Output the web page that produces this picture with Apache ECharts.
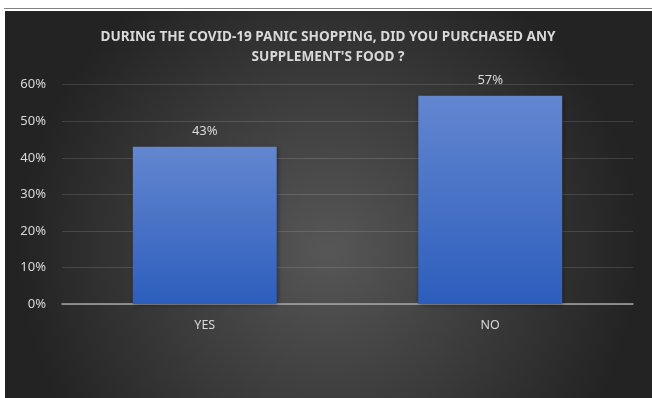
<!DOCTYPE html>
<html>
<head>
<meta charset="utf-8">
<script src="https://cdn.jsdelivr.net/npm/echarts@6/dist/echarts.min.js"></script>
<style>
  html, body { margin: 0; padding: 0; background: #ffffff; }
  #chart { width: 652px; height: 398px; }
</style>
</head>
<body>
<div id="chart"></div>
<script>
// Survey answers and their shares
const categories = ['YES', 'NO'];
const shares = [0.43, 0.57];
const titleLines = ['DURING THE COVID-19 PANIC SHOPPING, DID YOU PURCHASED ANY', "SUPPLEMENT'S FOOD ?"];

const FONT = '"Noto Sans", "Liberation Sans", sans-serif';
const TEXT = '#d9d9d9';

const chart = echarts.init(document.getElementById('chart'), null, { renderer: 'canvas' });

const pct = v => Math.round(v * 100) + '%';

chart.setOption({
  backgroundColor: '#ffffff',
  animation: false,
  graphic: [
    {
      type: 'line', z: -10, silent: true,
      shape: { x1: 4, y1: 8.5, x2: 652, y2: 8.5 },
      style: { stroke: '#808080', lineWidth: 1 }
    },
    {
      type: 'rect', z: -10, silent: true,
      shape: { x: 5, y: 11, width: 647, height: 387 },
      style: {
        fill: new echarts.graphic.RadialGradient(0.5, 0.62, 0.8, [
          { offset: 0, color: '#575757' },
          { offset: 1, color: '#232323' }
        ])
      }
    }
  ],
  title: {
    text: titleLines.join('\n'),
    left: 323, top: 22, textAlign: 'center',
    textStyle: { color: TEXT, fontFamily: FONT, fontSize: 13.6, fontWeight: 'bold', lineHeight: 20 }
  },
  grid: { left: 62, right: 19, top: 84.7, bottom: 94, containLabel: false },
  xAxis: {
    type: 'category',
    data: categories,
    axisLine: { show: true, lineStyle: { color: '#a6a6a6', width: 1.5 } },
    axisTick: { show: false },
    axisLabel: { color: TEXT, fontFamily: FONT, fontSize: 12.5, margin: 15 }
  },
  yAxis: {
    type: 'value',
    min: 0, max: 0.6, interval: 0.1,
    axisLine: { show: false },
    axisTick: { show: false },
    splitLine: { lineStyle: { color: 'rgba(255,255,255,0.13)', width: 1 } },
    axisLabel: { color: TEXT, fontFamily: FONT, fontSize: 13, margin: 16, formatter: pct }
  },
  series: [{
    type: 'bar',
    data: shares,
    barWidth: '50.4%',
    itemStyle: {
      color: new echarts.graphic.LinearGradient(0, 0, 0, 1, [
        { offset: 0, color: '#6386d0' },
        { offset: 1, color: '#2d5ebd' }
      ]),
      shadowBlur: 5,
      shadowColor: 'rgba(0,0,0,0.45)',
      shadowOffsetX: 1,
      shadowOffsetY: 1
    },
    label: {
      show: true, position: 'top', distance: 9,
      color: TEXT, fontFamily: FONT, fontSize: 13,
      formatter: p => pct(p.value)
    }
  }]
});
</script>
</body>
</html>
